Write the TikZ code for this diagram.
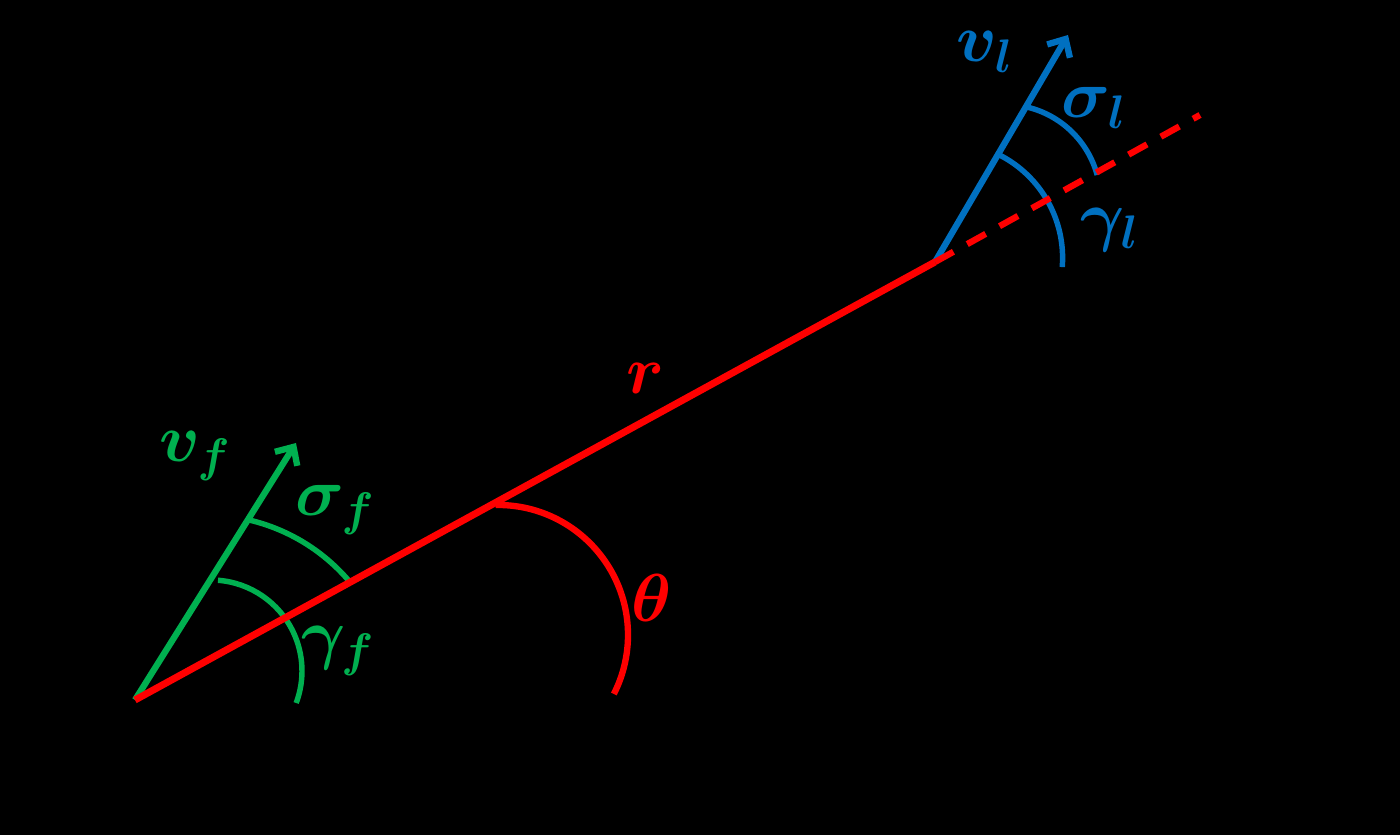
\documentclass[tikz,border=0pt]{standalone}
\usepackage{amsmath}
\usepackage{tikz}
\usetikzlibrary{arrows.meta}
\definecolor{folgreen}{RGB}{0,176,80}
\definecolor{leadblue}{RGB}{0,112,192}
\tikzset{
  font={\fontsize{24pt}{29pt}\selectfont\boldmath}}
\begin{document}
\begin{tikzpicture}[x=0.02cm,y=0.02cm]
\tikzstyle{every node}+=[inner sep=0pt,scale=1.55]
\tikzstyle{vec}=[line width=3.6pt,-{Straight Barb[length=8pt,width=15pt]}]
\tikzstyle{ang}=[line width=3.1pt]
\fill [black] (0,0) rectangle (1400,835);
\useasboundingbox (0,0) rectangle (1400,835);
\coordinate (fol) at (135,135);
\coordinate (lead) at (935,573);
\coordinate (dashend) at (1200,720);
\coordinate (foltip) at (296,392);
\coordinate (leadtip) at (1068,800);
\coordinate (sigmafc) at (206,132);
\coordinate (gammafc) at (211,164);
\coordinate (thetac) at (498,200);
\coordinate (sigmalc) at (1005,635);
\coordinate (gammalc) at (947,577);
\draw [folgreen,vec] (fol) -- (foltip);
\draw [folgreen,ang] (sigmafc) ++(76.5:188) arc [start angle=76.5,end angle=40,radius=188];
\draw [folgreen,ang] (gammafc) ++(85.6:91) arc [start angle=85.6,end angle=-20.6,radius=91];
\draw [leadblue,vec] (lead) -- (leadtip);
\draw [leadblue,ang] (sigmalc) ++(76.7:95.5) arc [start angle=76.7,end angle=15.2,radius=95.5];
\draw [leadblue,ang] (gammalc) ++(62.8:115.6) arc [start angle=62.8,end angle=-4.5,radius=115.6];
\draw [red,line width=4pt] (fol) -- (lead);
\draw [red,line width=3.6pt,dash pattern=on 12pt off 9pt] (lead) -- (dashend);
\draw [red,line width=3.6pt] (thetac) ++(91:130) arc [start angle=91,end angle=-27,radius=130];
\node [text=folgreen] (vf) at (195,379) {$v_f$};
\node [text=folgreen] (sigmaf) at (335,325) {$\sigma_f$};
\node [text=folgreen] (gammaf) at (338,184) {$\gamma_f$};
\node [text=red] (theta) at (652,237) {$\theta$};
\node [text=red] (r) at (645,457) {$r$};
\node [text=leadblue] (vl) at (985,783) {$v_l$};
\node [text=leadblue] (sigmal) at (1094,727) {$\sigma_l$};
\node [text=leadblue] (gammal) at (1110,605) {$\gamma_l$};
\end{tikzpicture}
\end{document}
